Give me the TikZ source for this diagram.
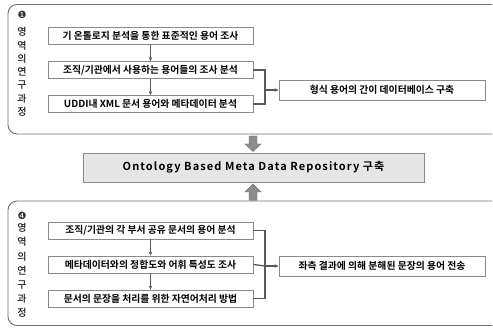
\documentclass[tikz,border=0pt]{standalone}
\usepackage{fontspec}
\setmainfont{Noto Sans CJK KR}[BoldFont={Noto Sans CJK KR Bold}]
\newfontfamily\dingfont{DejaVu Sans}
\newfontfamily\repofont{Noto Sans CJK KR Bold}[LetterSpace=10]
\newfontfamily\capfont{Noto Sans CJK KR Medium}
\usetikzlibrary{arrows.meta}
\definecolor{framegray}{HTML}{6E6E6E}
\definecolor{boxgray}{HTML}{8A8A8A}
\definecolor{linkgray}{HTML}{5A5A5A}
\definecolor{bigarrow}{HTML}{8C8C8C}
\definecolor{repofill}{HTML}{E6E6E6}
\tikzset{
  x=1pt, y=-1pt,
  stepbox/.style={draw=boxgray, line width=0.8pt, fill=white, minimum width=205pt,
    minimum height=17pt, inner sep=0pt, font=\bfseries\fontsize{9.8}{10}\selectfont},
  resultbox/.style={stepbox, minimum width=206pt, minimum height=20pt},
  repobox/.style={draw=boxgray, line width=0.8pt, fill=repofill, minimum width=341pt,
    minimum height=29pt, inner sep=0pt, font=\repofont\fontsize{11}{11}\selectfont},
  frameline/.style={draw=framegray, line width=0.9pt, rounded corners=9pt},
  smallarrow/.style={draw=linkgray, line width=0.8pt, -{Stealth[length=4pt,width=3.5pt]}},
  joinline/.style={draw=linkgray, line width=1.3pt},
  vlabel/.style={text=black!90, font=\capfont\fontsize{10}{10}\selectfont, inner sep=0pt},
  numlabel/.style={font=\dingfont\fontsize{10}{10}\selectfont, text=black!80, inner sep=0pt},
  bigarr/.style={fill=bigarrow, draw=black!55, line width=0.4pt}
}
\begin{document}
\begin{tikzpicture}
\useasboundingbox (0,0) rectangle (493,328);

% upper frame, open to the right
\draw[frameline] (492,4.5) -- (8,4.5) -- (8,134) -- (492,134);
% lower frame
\draw[frameline] (492,201) -- (8,201) -- (8,325.5) -- (492,325.5);

% vertical captions
\node[numlabel] (n1) at (22,15) {❶};
\foreach \c [count=\i from 0] in {영,역,의,연,구,과,정}
  \node[vlabel] (ta\i) at (22,{32+13.3*\i}) {\c};
\node[numlabel] (n4) at (22,216) {❹};
\foreach \c [count=\i from 0] in {영,역,의,연,구,과,정}
  \node[vlabel] (ba\i) at (22,{228+14.2*\i}) {\c};

% upper steps
\node[stepbox] (a1) at (150.5,35.5) {기 온톨로지 분석을 통한 표준적인 용어 조사};
\node[stepbox] (a2) at (150.5,70) {조직/기관에서 사용하는 용어들의 조사 분석};
\node[stepbox] (a3) at (150.5,104) {UDDI내 XML 문서 용어와 메타데이터 분석};
\node[resultbox] (ar) at (382,90) {형식 용어의 간이 데이터베이스 구축};
\draw[smallarrow] (a1) -- (a2);
\draw[smallarrow] (a2) -- (a3);
\coordinate (aj) at (265,90);
\draw[joinline] (a2.east) -| (aj) |- (a3.east);
\draw[smallarrow, line width=1.3pt] (aj) -- (ar.west);

% repository
\node[repobox] (repo) at (253.5,167.5) {Ontology Based Meta Data Repository 구축};

% lower steps
\node[stepbox] (b1) at (150.5,230.5) {조직/기관의 각 부서 공유 문서의 용어 분석};
\node[stepbox] (b2) at (150.5,264.5) {메타데이터와의 정합도와 어휘 특성도 조사};
\node[stepbox] (b3) at (150.5,298.5) {문서의 문장을 처리를 위한 자연어처리 방법};
\node[resultbox] (br) at (382,266) {좌측 결과에 의해 분해된 문장의 용어 전송};
\draw[smallarrow] (b1) -- (b2);
\draw[smallarrow] (b2) -- (b3);
\coordinate (bj) at (265,266);
\draw[joinline] (b1.east) -| (bj) |- (b3.east);
\draw[joinline] (b2.east) -- (bj);
\draw[smallarrow, line width=1.3pt] (bj) -- (br.west);

% block arrows into the repository
\draw[bigarr] (249,136) -- (257,136) -- (257,144) -- (261,144) -- (253,151.5)
  -- (245,144) -- (249,144) -- cycle;
\draw[bigarr] (249,200.5) -- (257,200.5) -- (257,192) -- (261,192) -- (253,184)
  -- (245,192) -- (249,192) -- cycle;
\end{tikzpicture}
\end{document}
